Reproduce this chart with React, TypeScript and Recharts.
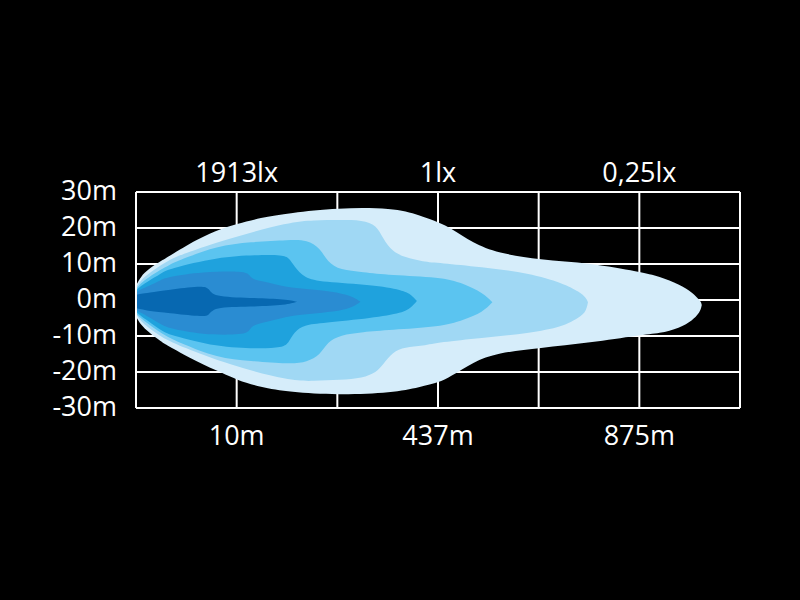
import React from "react";
import {
  ComposedChart,
  Area,
  XAxis,
  YAxis,
  CartesianGrid,
  ReferenceLine,
} from "recharts";

// beam pattern contours, outer (weakest) to inner (strongest)
// each row: [distance in grid units, lower edge m, upper edge m]
const glow1 = [
  [0, -4.6, 4.0], [0.5, -7.0, 6.6], [1.2, -8.8, 8.5], [2.5, -11.6, 10.9],
  [3.2, -12.8, 12.0], [6.1, -17.2, 17.0], [8.6, -20.3, 20.0],
  [10.0, -22.2, 21.1], [12.3, -24.2, 22.8], [15.3, -25.6, 24.2],
  [20.0, -26.4, 25.6], [25.5, -25.8, 25.6], [28.2, -24.2, 23.6],
  [30.2, -22.8, 21.4], [31.2, -21.4, 20.1], [33.5, -17.2, 15.8],
  [35.9, -14.7, 13.1], [40.1, -13.3, 11.1], [45.1, -11.9, 10.3],
  [50.1, -9.7, 7.8], [52.0, -9.3, 6.6], [54.0, -7.8, 4.3],
  [55.3, -5.6, 2.0], [55.9, -3.8, 0.2], [56.15, -2.2, -0.6],
  [56.2, -1.4, -1.4],
];
const glow2 = [
  [0, -4.0, 3.5], [0.5, -6.0, 5.6], [1.2, -7.6, 7.2], [2.5, -10.2, 9.7],
  [3.2, -11.2, 10.9], [4.4, -12.8, 12.6], [9.3, -18.1, 17.2],
  [15.3, -22.5, 21.7], [17.6, -22.5, 22.2], [20.3, -22.2, 22.2],
  [22.5, -21.7, 22.2], [23.9, -20.0, 20.8], [24.5, -18.1, 17.2],
  [25.5, -14.4, 13.3], [26.7, -13.1, 11.9], [28.5, -12.8, 10.6],
  [30.2, -11.7, 10.3], [34.2, -10.6, 9.2], [39.1, -9.2, 7.5],
  [42.4, -7.5, 4.7], [44.1, -4.7, 2.2], [44.7, -3.3, 0.6],
  [44.9, -0.6, -0.6],
];
const glow3 = [
  [0, -3.6, 3.0], [0.5, -5.2, 4.8], [1.2, -6.6, 6.2], [2.5, -9.2, 8.5],
  [3.2, -10.3, 9.6], [4.4, -11.9, 11.2], [8.1, -16.1, 15.0],
  [11.3, -16.9, 16.1], [15.3, -17.8, 16.7], [17.0, -17.2, 16.7],
  [18.3, -15.3, 14.4], [19.0, -11.7, 10.6], [20.3, -9.7, 8.3],
  [22.5, -8.9, 7.8], [25.2, -8.3, 6.9], [30.2, -7.5, 6.4],
  [32.5, -5.6, 4.7], [34.5, -3.3, 1.9], [35.4, -0.6, -0.6],
];
const glow4 = [
  [0, -3.2, 2.6], [0.5, -4.5, 4.0], [1.2, -5.8, 5.2], [2.5, -8.4, 7.4],
  [3.2, -9.6, 8.6], [8.1, -13.1, 11.9], [12.0, -13.5, 12.5],
  [14.6, -13.3, 12.5], [15.2, -11.7, 11.7], [15.7, -8.9, 9.4],
  [16.7, -6.9, 6.1], [18.5, -6.4, 5.0], [23.5, -5.0, 4.2],
  [26.5, -3.6, 2.8], [27.4, -1.9, 1.4], [27.9, -0.3, -0.3],
];
const glow5 = [
  [0, -2.8, 2.0], [0.5, -3.6, 3.0], [1.2, -4.6, 3.8], [2.5, -6.8, 5.6],
  [3.2, -7.8, 6.4], [6.5, -9.7, 7.8], [10.8, -9.7, 8.1],
  [11.3, -8.3, 6.9], [11.6, -6.9, 5.6], [13.1, -6.1, 5.0],
  [15.3, -4.2, 3.3], [18.6, -3.6, 2.8], [21.3, -2.5, 1.4],
  [22.3, -0.5, -0.5],
];
const glow6 = [
  [0, -2.2, 1.4], [0.5, -2.6, 1.8], [1.2, -3.0, 2.0], [3.2, -3.6, 2.8],
  [6.5, -4.6, 4.0], [7.3, -4.4, 3.3], [7.6, -2.0, 0.9],
  [11.3, -1.9, 0.6], [15.0, -1.4, 0.2], [16.0, -0.5, -0.5],
];

const widthTicks = [-30, -20, -10, 0, 10, 20, 30];
const gridTicks = [0, 10, 20, 30, 40, 50, 60];
const labelTicks = [10, 30, 50];
const distanceLabels = ["10m", "437m", "875m"];
const luxLabels = ["1913lx", "1lx", "0,25lx"];

const layers = [glow1, glow2, glow3, glow4, glow5, glow6];
const fills = ["#d6edfa", "#a0d8f4", "#5bc4f0", "#1fa2dd", "#2a8cd2", "#0768b1"];

const toRows = (pts: number[][]) => pts.map(([x, lo, hi]) => ({ x, r: [lo, hi] }));

const font = "'Open Sans', 'Noto Sans', sans-serif";

const YTick = (props: any) => {
  const { x, y, payload } = props;
  return (
    <text x={x} y={y - 3} textAnchor="end" dominantBaseline="central" fill="#fff" fontSize={27} fontFamily={font}>
      {payload.value}m
    </text>
  );
};

const BottomTick = (props: any) => {
  const { x, y, payload } = props;
  const i = labelTicks.indexOf(payload.value);
  if (i < 0) return null;
  return (
    <text x={x} y={y + 26} textAnchor="middle" dominantBaseline="central" fill="#fff" fontSize={27} fontFamily={font}>
      {distanceLabels[i]}
    </text>
  );
};

const TopTick = (props: any) => {
  const { x, y, payload } = props;
  const i = labelTicks.indexOf(payload.value);
  if (i < 0) return null;
  return (
    <text x={x} y={y - 21} textAnchor="middle" dominantBaseline="central" fill="#fff" fontSize={27} fontFamily={font}>
      {luxLabels[i]}
    </text>
  );
};

export default function App() {
  return (
    <div style={{ position: "absolute", left: 0, top: 0, width: 800, height: 600, background: "#000" }}>
      <ComposedChart width={800} height={600} margin={{ top: 132, right: 60, bottom: 132, left: 0 }}>
        <CartesianGrid stroke="#fff" strokeWidth={2} />
        <XAxis
          type="number"
          dataKey="x"
          domain={[0, 60]}
          ticks={gridTicks}
          height={60}
          tickSize={0}
          tickMargin={0}
          tickLine={false}
          axisLine={{ stroke: "#fff", strokeWidth: 2 }}
          tick={<BottomTick />}
          interval={0}
        />
        <XAxis
          xAxisId="top"
          orientation="top"
          type="number"
          dataKey="x"
          domain={[0, 60]}
          ticks={labelTicks}
          height={60}
          tickSize={0}
          tickMargin={0}
          tickLine={false}
          axisLine={{ stroke: "#fff", strokeWidth: 2 }}
          tick={<TopTick />}
          interval={0}
        />
        <YAxis
          type="number"
          domain={[-30, 30]}
          ticks={widthTicks}
          width={136}
          tickSize={0}
          tickMargin={19}
          tickLine={false}
          axisLine={{ stroke: "#fff", strokeWidth: 2 }}
          tick={<YTick />}
          interval={0}
        />
        <ReferenceLine x={60} stroke="#fff" strokeWidth={2} />
        {/* invisible copy of the outer contour so the lux axis on top has data */}
        <Area
          xAxisId="top"
          data={toRows(glow1)}
          dataKey="r"
          fill="none"
          stroke="none"
          isAnimationActive={false}
          dot={false}
          activeDot={false}
        />
        {layers.map((pts, i) => (
          <Area
            key={i}
            data={toRows(pts)}
            dataKey="r"
            type="basis"
            fill={fills[i]}
            fillOpacity={1}
            stroke="none"
            isAnimationActive={false}
            dot={false}
            activeDot={false}
          />
        ))}
      </ComposedChart>
    </div>
  );
}
